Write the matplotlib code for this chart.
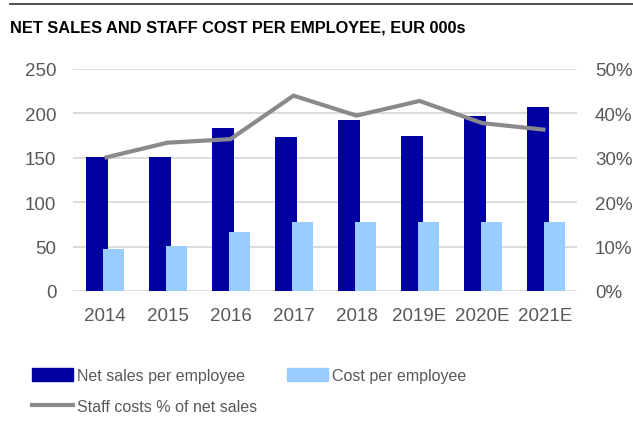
import numpy as np
import matplotlib
matplotlib.use("Agg")
import matplotlib.pyplot as plt
from matplotlib.patches import Patch
from matplotlib.lines import Line2D

plt.rcParams['font.family'] = ['Liberation Sans', 'DejaVu Sans']

years = ["2014", "2015", "2016", "2017", "2018", "2019E", "2020E", "2021E"]
net_sales = [151, 151, 183, 173, 192, 175, 197, 207]
cost = [47, 51, 66, 78, 78, 78, 78, 78]
staff_pct = [30.0, 33.4, 34.2, 44.0, 39.5, 42.8, 37.8, 36.3]

navy = "#0000a0"
light = "#99ccff"
grey_line = "#8a8a8e"
txt = "#595959"

fig = plt.figure(figsize=(6.33, 4.27), dpi=100)
ax = fig.add_axes([0.1153, 0.3162, 0.7962, 0.5199])
ax2 = ax.twinx()

x = np.arange(len(years))
ax.bar(x - 0.12, net_sales, width=0.36, color=navy, zorder=2)
ax.bar(x + 0.14, cost, width=0.34, color=light, zorder=3)
ax.set_ylim(0, 250)
ax.set_xlim(-0.5, len(years) - 0.5)
ax.set_yticks(range(0, 251, 50))
ax.yaxis.grid(True, color="#d9d9d9", linewidth=1.3, zorder=0)
ax.set_axisbelow(True)
ax.set_xticks(x)
ax.set_xticklabels(years)

ax2.plot(x, staff_pct, color=grey_line, linewidth=3, solid_capstyle="butt", zorder=4)
ax2.set_ylim(0, 50)
ax2.set_yticks(range(0, 51, 10))
ax2.set_yticklabels([f"{v}%" for v in range(0, 51, 10)])

for a in (ax, ax2):
    for s in a.spines.values():
        s.set_visible(False)
    a.tick_params(length=0, labelsize=13.5, labelcolor=txt)
ax.tick_params(axis="y", pad=12)
ax.tick_params(axis="x", pad=11.5)
ax2.tick_params(axis="y", pad=13)

# title and top rule
fig.add_artist(Line2D([10 / 633, 1.0], [1 - 5 / 427] * 2, color="#404040", linewidth=1.3))
fig.text(10 / 633, 1 - 28 / 427, "NET SALES AND STAFF COST PER EMPLOYEE, EUR 000s",
         fontsize=11.8, fontweight="bold", va="center", ha="left", color="black")

handles = [Patch(color=navy), Line2D([], [], color=grey_line, linewidth=3),
           Patch(color=light)]
labels = ["Net sales per employee", "Staff costs % of net sales", "Cost per employee"]
fig.legend(handles, labels, ncol=2, loc="upper left",
           bbox_to_anchor=(32 / 633, 1 - 369 / 427), frameon=False,
           fontsize=11.5, labelcolor=txt, handlelength=2.56, handleheight=0.88,
           handletextpad=0.25, columnspacing=1.9, labelspacing=0.98,
           borderpad=0, borderaxespad=0)

fig.savefig("out.png", dpi=100)
